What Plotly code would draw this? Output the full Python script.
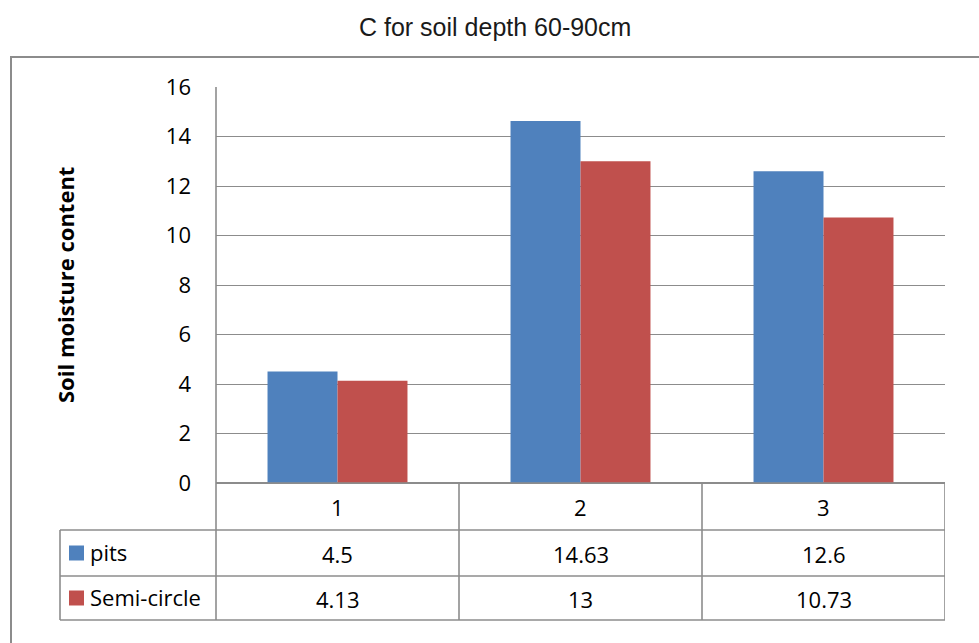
import plotly.graph_objects as go

# Soil moisture content at 60-90 cm depth, per site
categories = ["1", "2", "3"]
series_names = ["pits", "Semi-circle"]
pits = [4.5, 14.63, 12.6]
semi_circle = [4.13, 13, 10.73]
y_ticks = [0, 2, 4, 6, 8, 10, 12, 14, 16]

W, H = 979, 643
BLUE = "#4F81BD"
RED = "#C0504D"
LINE = "#8c8c8c"
FONT = "Open Sans"


def px(x):
    return x / W


def py(y):
    return 1 - y / H


# plot region in pixels
X0, X1 = 216, 945
Y0, Y1 = 87, 483
# data table rows in pixels
ROW_HDR = (483, 530)
ROW_1 = (530, 576)
ROW_2 = (576, 620)
LEFT_COL = 60

fig = go.Figure()
fig.add_trace(go.Bar(x=categories, y=pits, name=series_names[0],
                     marker=dict(color=BLUE, line=dict(width=0))))
fig.add_trace(go.Bar(x=categories, y=semi_circle, name=series_names[1],
                     marker=dict(color=RED, line=dict(width=0))))

shapes = []
annotations = []

# outer chart frame
shapes.append(dict(type="rect", xref="paper", yref="paper",
                   x0=px(11), x1=px(995), y0=py(57), y1=py(660),
                   line=dict(color=LINE, width=2), fillcolor="rgba(0,0,0,0)"))

# horizontal table lines
for yy, xs in [(ROW_HDR[0], X0), (ROW_1[0], LEFT_COL), (ROW_2[0], LEFT_COL), (ROW_2[1], LEFT_COL)]:
    shapes.append(dict(type="line", xref="paper", yref="paper",
                       x0=px(xs), x1=px(X1), y0=py(yy), y1=py(yy),
                       line=dict(color=LINE, width=1.6)))

# left edge of the series-name column
shapes.append(dict(type="line", xref="paper", yref="paper",
                   x0=px(LEFT_COL), x1=px(LEFT_COL), y0=py(ROW_1[0]), y1=py(ROW_2[1]),
                   line=dict(color=LINE, width=1.6)))
# value axis line continued down through the table
shapes.append(dict(type="line", xref="paper", yref="paper",
                   x0=px(X0), x1=px(X0), y0=py(Y0), y1=py(ROW_2[1]),
                   line=dict(color=LINE, width=1.6)))
# column separators at category boundaries
n = len(categories)
for b in [i + 0.5 for i in range(n)]:
    shapes.append(dict(type="line", xref="x", yref="paper",
                       x0=b, x1=b, y0=py(ROW_HDR[0]), y1=py(ROW_2[1]),
                       line=dict(color=LINE, width=1.6)))

CELL_FONT = dict(family=FONT, size=22, color="#000")

# category header cells
for i, c in enumerate(categories):
    annotations.append(dict(x=i, y=py(sum(ROW_HDR) / 2), xref="x", yref="paper",
                            xanchor="center", yanchor="middle",
                            text=c, showarrow=False, font=CELL_FONT))

# series rows: legend key, name, values
for row, name, vals, col in [(ROW_1, series_names[0], pits, BLUE),
                             (ROW_2, series_names[1], semi_circle, RED)]:
    yc = sum(row) / 2
    shapes.append(dict(type="rect", xref="paper", yref="paper",
                       x0=px(69), x1=px(84), y0=py(yc - 7.5), y1=py(yc + 7.5),
                       fillcolor=col, line=dict(width=0)))
    annotations.append(dict(x=px(88), y=py(yc - 1), xref="paper", yref="paper",
                            xanchor="left", yanchor="middle",
                            text=name, showarrow=False, font=CELL_FONT))
    for i, v in enumerate(vals):
        annotations.append(dict(x=i, y=py(yc + 0.5), xref="x", yref="paper",
                                xanchor="center", yanchor="middle",
                                text=f"{v:g}", showarrow=False, font=CELL_FONT))

# value axis title
annotations.append(dict(x=px(65), y=py(285), xref="paper", yref="paper",
                        xanchor="center", yanchor="middle",
                        text="<b>Soil moisture content</b>", showarrow=False,
                        textangle=-90,
                        font=dict(family=FONT, size=22, color="#000")))
# chart title
annotations.append(dict(x=px(495), y=py(27), xref="paper", yref="paper",
                        xanchor="center", yanchor="middle",
                        text="C for soil depth 60-90cm", showarrow=False,
                        font=dict(family="Liberation Sans", size=25, color="#1a1a1a")))

fig.update_layout(
    template="none",
    width=W, height=H,
    margin=dict(l=0, r=0, t=0, b=0, pad=0),
    paper_bgcolor="white", plot_bgcolor="white",
    barmode="group", bargap=0.424, bargroupgap=0,
    showlegend=False,
    shapes=shapes, annotations=annotations,
    xaxis=dict(domain=[px(X0), px(X1)], type="category", range=[-0.5, n - 0.5],
               showticklabels=False, showgrid=False, zeroline=False, showline=False,
               ticks="", automargin=False),
    yaxis=dict(domain=[py(Y1), py(Y0)], range=[0, 16], tickvals=y_ticks,
               showgrid=True, gridcolor=LINE, gridwidth=1.4,
               zeroline=True, zerolinecolor=LINE, zerolinewidth=1.6,
               showline=False, ticks="", ticklabelstandoff=24, automargin=False,
               tickfont=dict(family=FONT, size=22, color="#000")),
)

fig.write_html("out.html")
